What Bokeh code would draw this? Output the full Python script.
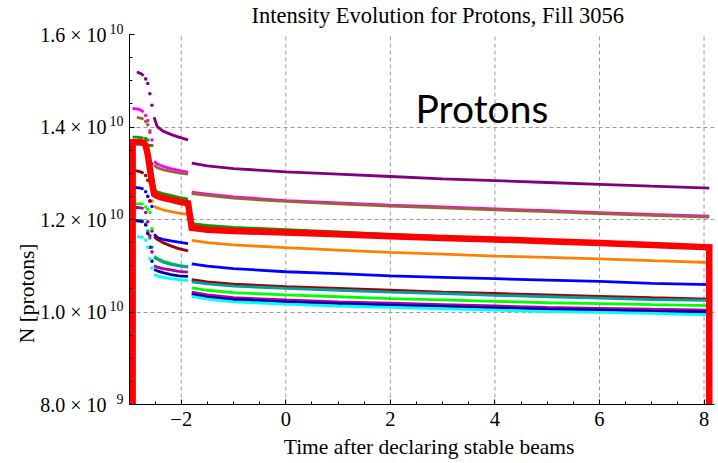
import math
from bokeh.plotting import figure
from bokeh.models import Label, SingleIntervalTicker, FixedTicker, Range1d, LinearAxis
from bokeh.embed import file_html
from bokeh.resources import INLINE

# ---------------- text ----------------
TITLE = "Intensity Evolution for Protons, Fill 3056"
X_LABEL = "Time after declaring stable beams"
Y_LABEL = "N [protons]"
ANNOTATION = "Protons"

X_TICKS = [-2, 0, 2, 4, 6, 8]
X_TICK_LABELS = ["\u22122", "0", "2", "4", "6", "8"]
Y_TICKS = [0.8e10, 1.0e10, 1.2e10, 1.4e10, 1.6e10]
Y_TICK_BASES = ["8.0 \u00d7 10", "1.0 \u00d7 10", "1.2 \u00d7 10", "1.4 \u00d7 10", "1.6 \u00d7 10"]
Y_TICK_EXPONENTS = ["9", "10", "10", "10", "10"]

# ---------------- data (N in units of 1e10) ----------------
SCALE = 1e10
NAN = float("nan")
T_EARLY = [-2.93, -2.85, -2.78, -2.72, -2.68, -2.64, -2.60, -2.56, -2.52, -2.46, -2.35, -2.20, -2.05, -1.87]
T_LATE = [-1.80, -1.50, -1.00, 0.0, 1.0, 2.0, 3.0, 4.0, 5.0, 6.0, 7.0, 8.10]

PURPLE_EARLY = [NAN, 1.519, 1.516, 1.511, 1.504, 1.494, 1.472, 1.447, 1.421, 1.401, 1.391, 1.384, 1.378, 1.372]
PURPLE_LATE = [1.322, 1.316, 1.310, 1.303, 1.298, 1.293, 1.288, 1.284, 1.280, 1.276, 1.272, 1.268]
MAGENTA_EARLY = [1.440, 1.439, 1.437, 1.432, 1.425, 1.414, 1.392, 1.372, 1.326, 1.320, 1.315, 1.310, 1.306, 1.302]
MAGENTA_LATE = [1.259, 1.255, 1.249, 1.241, 1.236, 1.231, 1.227, 1.223, 1.219, 1.215, 1.211, 1.207]
BROWN_EARLY = [NAN, 1.421, 1.419, 1.417, 1.412, 1.405, 1.388, 1.360, 1.318, 1.312, 1.308, 1.304, 1.301, 1.298]
BROWN_LATE = [1.256, 1.252, 1.246, 1.239, 1.234, 1.229, 1.225, 1.221, 1.217, 1.213, 1.209, 1.205]
GREEN_EARLY = [1.378, 1.378, 1.377, 1.376, 1.375, 1.372, 1.360, 1.320, 1.264, 1.260, 1.256, 1.252, 1.248, 1.244]
GREEN_LATE = [1.191, 1.187, 1.183, 1.178, 1.173, 1.168, 1.163, 1.159, 1.155, 1.151, 1.147, 1.142]
RED_EARLY = [1.367, 1.367, 1.367, 1.366, 1.360, 1.340, 1.310, 1.280, 1.255, 1.251, 1.247, 1.243, 1.239, 1.235]
RED_LATE = [1.182, 1.178, 1.175, 1.172, 1.168, 1.164, 1.160, 1.157, 1.153, 1.149, 1.145, 1.140]
ORANGE_EARLY = [1.364, 1.364, 1.363, 1.362, 1.350, 1.320, 1.280, 1.240, 1.229, 1.225, 1.221, 1.217, 1.214, 1.211]
ORANGE_LATE = [1.155, 1.150, 1.145, 1.139, 1.134, 1.129, 1.125, 1.121, 1.118, 1.115, 1.111, 1.107]
DARKRED_EARLY = [1.306, 1.305, 1.303, 1.300, 1.295, 1.285, 1.240, 1.175, 1.163, 1.157, 1.150, 1.143, 1.137, 1.132]
DARKRED_LATE = [1.070, 1.065, 1.060, 1.055, 1.051, 1.047, 1.043, 1.040, 1.037, 1.034, 1.031, 1.028]
BLUE_EARLY = [1.270, 1.269, 1.268, 1.266, 1.260, 1.250, 1.240, 1.228, 1.168, 1.161, 1.157, 1.154, 1.151, 1.148]
BLUE_LATE = [1.104, 1.099, 1.094, 1.087, 1.083, 1.078, 1.075, 1.072, 1.069, 1.066, 1.062, 1.059]
LIME_EARLY = [1.234, 1.234, 1.234, 1.233, 1.227, 1.222, 1.215, 1.180, 1.121, 1.116, 1.110, 1.105, 1.101, 1.098]
LIME_LATE = [1.052, 1.047, 1.042, 1.037, 1.033, 1.029, 1.026, 1.023, 1.020, 1.018, 1.016, 1.014]
TEAL_EARLY = [1.198, 1.198, 1.198, 1.197, 1.190, 1.175, 1.160, 1.140, 1.118, 1.114, 1.108, 1.103, 1.100, 1.097]
TEAL_LATE = [1.065, 1.061, 1.056, 1.051, 1.047, 1.043, 1.040, 1.036, 1.033, 1.030, 1.027, 1.025]
DMAGENTA_EARLY = [1.226, 1.226, 1.225, 1.224, 1.215, 1.195, 1.165, 1.130, 1.100, 1.097, 1.094, 1.091, 1.088, 1.086]
DMAGENTA_LATE = [1.043, 1.037, 1.031, 1.026, 1.022, 1.019, 1.016, 1.013, 1.010, 1.008, 1.006, 1.004]
NAVY_EARLY = [1.197, 1.197, 1.196, 1.195, 1.188, 1.170, 1.140, 1.110, 1.092, 1.089, 1.085, 1.081, 1.078, 1.077]
NAVY_LATE = [1.038, 1.032, 1.027, 1.022, 1.018, 1.015, 1.012, 1.009, 1.006, 1.004, 1.002, 1.000]
CYAN_EARLY = [NAN, 1.163, 1.162, 1.161, 1.155, 1.140, 1.115, 1.095, 1.081, 1.078, 1.075, 1.072, 1.070, 1.068]
CYAN_LATE = [1.034, 1.028, 1.022, 1.017, 1.013, 1.010, 1.007, 1.004, 1.001, 0.999, 0.997, 0.994]

Y_MIN, Y_MAX = 0.8e10, 1.6e10
X_MIN, X_MAX = -2.99, 8.2

# (colour, early, late) in drawing order; red (thick) is drawn last
SERIES = [
    ("#800080", PURPLE_EARLY, PURPLE_LATE),
    ("#FF00FF", MAGENTA_EARLY, MAGENTA_LATE),
    ("#996633", BROWN_EARLY, BROWN_LATE),
    ("#FF8000", ORANGE_EARLY, ORANGE_LATE),
    ("#00A000", GREEN_EARLY, GREEN_LATE),
    ("#0000FF", BLUE_EARLY, BLUE_LATE),
    ("#A00000", DARKRED_EARLY, DARKRED_LATE),
    ("#00FF00", LIME_EARLY, LIME_LATE),
    ("#00A0A0", TEAL_EARLY, TEAL_LATE),
    ("#AA00AA", DMAGENTA_EARLY, DMAGENTA_LATE),
    ("#0000AA", NAVY_EARLY, NAVY_LATE),
    ("#00FFFF", CYAN_EARLY, CYAN_LATE),
]

PLATEAU_END = 3   # index where the fast drop starts
DROP_END = 8      # index where the fast drop ends

# ---------------- layout constants ----------------
SERIF = "Liberation Serif"
W, H = 718, 463
AXIS_TOP, BOTTOM, LEFT = 34, 59, 128
HEAD = 7                                   # px of empty frame above the 1.6e10 tick
PER_PX = (Y_MAX - Y_MIN) / (H - AXIS_TOP - BOTTOM)
Y_END = Y_MAX + HEAD * PER_PX
EXP_RAISE = 6 * PER_PX                     # exponent raised by 6 px
Y_LABEL_AT = 1.148e10                      # where the y title is centred
X_LABEL_AT = 2.74                          # where the x title is centred

p = figure(width=W, height=H, output_backend="svg", toolbar_location=None,
           x_range=Range1d(X_MIN, X_MAX), y_range=Range1d(Y_MIN, Y_END),
           min_border_left=LEFT, min_border_right=4, min_border_top=AXIS_TOP - HEAD,
           min_border_bottom=BOTTOM)
p.outline_line_color = None
p.background_fill_color = "white"
p.border_fill_color = "white"
p.extra_y_ranges = {"exp": Range1d(Y_MIN - EXP_RAISE, Y_END - EXP_RAISE)}

p.title.text = TITLE
p.title.text_font = SERIF
p.title.text_font_size = "22.5px"
p.title.text_font_style = "normal"
p.title.text_color = "black"
p.title.align = "left"
p.title.offset = 122
p.title.standoff = 0

# x axis
xa = p.xaxis[0]
xa.ticker = SingleIntervalTicker(interval=2, num_minor_ticks=4)
xa.major_label_overrides = {t: lab for t, lab in zip(X_TICKS, X_TICK_LABELS)}
xa.major_label_text_font_size = "20.5px"
xa.major_label_standoff = 7

# y axis nearest the frame: line and ticks only
ya = p.yaxis[0]
ya.ticker = SingleIntervalTicker(interval=0.2e10, num_minor_ticks=4)
ya.bounds = (Y_MIN, Y_MAX)
ya.major_label_overrides = {t: "" for t in Y_TICKS}
ya.major_label_standoff = 0

for ax in (xa, ya):
    ax.axis_line_color = "black"
    ax.axis_line_width = 1
    ax.major_tick_in = 5
    ax.major_tick_out = 0
    ax.minor_tick_in = 3
    ax.minor_tick_out = 0
    ax.major_tick_line_color = "black"
    ax.minor_tick_line_color = "black"
    ax.major_label_text_font = SERIF
    ax.major_label_text_color = "black"

def label_axis(side, **kw):
    ax = LinearAxis(axis_line_color=None, major_tick_line_color=None, minor_tick_line_color=None,
                    major_tick_in=0, major_tick_out=0, minor_tick_in=0, minor_tick_out=0,
                    major_label_text_font=SERIF, major_label_text_color="black", **kw)
    p.add_layout(ax, side)
    return ax

# left: exponents (raised), then mantissas, then the y title
label_axis("left", y_range_name="exp", ticker=FixedTicker(ticks=Y_TICKS),
           major_label_overrides={t: e for t, e in zip(Y_TICKS, Y_TICK_EXPONENTS)},
           major_label_text_font_size="14px", major_label_standoff=6)
label_axis("left", ticker=FixedTicker(ticks=Y_TICKS),
           major_label_overrides={t: b for t, b in zip(Y_TICKS, Y_TICK_BASES)},
           major_label_text_font_size="20px", major_label_standoff=0)
label_axis("left", ticker=FixedTicker(ticks=[Y_LABEL_AT]),
           major_label_overrides={Y_LABEL_AT: Y_LABEL}, major_label_orientation=math.pi / 2,
           major_label_text_font_size="21.5px", major_label_standoff=10)
# below: the x title
label_axis("below", ticker=FixedTicker(ticks=[X_LABEL_AT]),
           major_label_overrides={X_LABEL_AT: X_LABEL},
           major_label_text_font_size="21.5px", major_label_standoff=6)

# grid: horizontal from the y ticker (inner ticks only), vertical drawn within the axis span
p.xgrid.visible = False
yg = p.ygrid[0]
yg.bounds = (Y_TICKS[1], Y_TICKS[-2])
yg.grid_line_color = "#9a9a9a"
yg.grid_line_dash = "4 3"
yg.grid_line_width = 1
p.segment(x0=X_TICKS, y0=[Y_MIN] * len(X_TICKS), x1=X_TICKS, y1=[Y_MAX] * len(X_TICKS),
          line_color="#9a9a9a", line_dash="4 3", line_width=1)

def sc(vals):
    return [v * SCALE for v in vals]

for color, early, late in SERIES:
    p.line(T_EARLY[:PLATEAU_END + 1], sc(early[:PLATEAU_END + 1]), line_color=color, line_width=2.8)
    p.scatter(T_EARLY[PLATEAU_END + 1:DROP_END], sc(early[PLATEAU_END + 1:DROP_END]),
              marker="circle", size=3.6, fill_color=color, line_color=None)
    p.line(T_EARLY[DROP_END:], sc(early[DROP_END:]), line_color=color, line_width=2.8)
    p.line(T_LATE, sc(late), line_color=color, line_width=2.8)

red_x = [T_EARLY[0]] + T_EARLY + T_LATE + [T_LATE[-1]]
red_y = [Y_MIN] + sc(RED_EARLY) + sc(RED_LATE) + [Y_MIN]
p.line(red_x, red_y, line_color="#FF0000", line_width=6.5, line_join="miter")

p.add_layout(Label(x=2.48, y=1.442e10, text=ANNOTATION, text_align="left", text_baseline="middle",
                   text_font="Lato", text_font_size="39px", text_color="black"))

open("out.html", "w").write(file_html(p, INLINE))
